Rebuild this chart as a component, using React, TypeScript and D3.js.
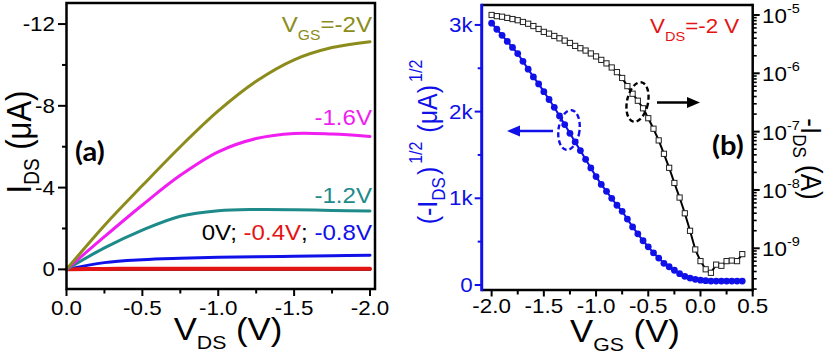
import { useEffect, useRef } from "react";
import * as d3 from "d3";

// (a) output curves: I_DS (uA) vs V_DS (V)
const vdsPoints = [0, -0.25, -0.5, -0.75, -1.0, -1.25, -1.5, -1.75, -2.0];
const idsVgs2 = [0, -2.15, -4.1, -6.0, -7.75, -9.2, -10.25, -10.85, -11.14];
const idsVgs16 = [0, -1.6, -3.15, -4.6, -5.75, -6.4, -6.65, -6.62, -6.5];
const idsVgs12 = [0, -1.05, -1.92, -2.6, -2.87, -2.93, -2.92, -2.88, -2.86];
const idsVgs08 = [0, -0.33, -0.47, -0.54, -0.59, -0.62, -0.64, -0.67, -0.69];
const idsVgs04 = [0, -0.02, -0.03, -0.03, -0.03, -0.03, -0.03, -0.03, -0.03];
const idsVgs0 = [0, -0.01, -0.01, -0.01, -0.01, -0.01, -0.01, -0.01, -0.01];

// (b) transfer curve at V_DS = -2 V
const vgsPoints = [
  -2.0, -1.95, -1.9, -1.85, -1.8, -1.75, -1.7, -1.65, -1.6, -1.55,
  -1.5, -1.45, -1.4, -1.35, -1.3, -1.25, -1.2, -1.15, -1.1, -1.05,
  -1.0, -0.95, -0.9, -0.85, -0.8, -0.75, -0.7, -0.65, -0.6, -0.55,
  -0.5, -0.45, -0.4, -0.35, -0.3, -0.25, -0.2, -0.15, -0.1, -0.05,
  0, 0.05, 0.1, 0.15, 0.2, 0.25, 0.3, 0.35, 0.4,
];
const sqrtIds = [
  3020, 2950, 2880, 2810, 2740, 2670, 2580, 2490, 2400, 2320,
  2230, 2140, 2050, 1950, 1850, 1750, 1650, 1550, 1450, 1350,
  1250, 1160, 1080, 1000, 920, 850, 760, 670, 590, 510,
  440, 370, 310, 250, 210, 170, 130, 100, 80, 65,
  55, 50, 45, 45, 45, 45, 45, 45, 45,
];
// log10(-I_DS / A)
const logIds = [
  -5.0, -5.02, -5.03, -5.05, -5.07, -5.09, -5.12, -5.15, -5.19, -5.24,
  -5.29, -5.32, -5.36, -5.4, -5.44, -5.48, -5.53, -5.57, -5.61, -5.66,
  -5.71, -5.77, -5.83, -5.9, -5.98, -6.08, -6.22, -6.35, -6.47, -6.6,
  -6.77, -6.95, -7.15, -7.38, -7.62, -7.88, -8.13, -8.4, -8.7, -9.02,
  -9.22, -9.36, -9.42, -9.28, -9.3, -9.22, -9.21, -9.22, -9.1,
];

const vdsTicks = [0, -0.5, -1.0, -1.5, -2.0];
const vdsMinor = [-0.25, -0.75, -1.25, -1.75];
const idsTicks = [0, -4, -8, -12];
const idsMinor = [-2, -6, -10];
const vgsTicks = [-2.0, -1.5, -1.0, -0.5, 0, 0.5];
const vgsMinor = [-1.75, -1.25, -0.75, -0.25, 0.25];
const sqrtTicks = [0, 1000, 2000, 3000];
const sqrtMinor = [500, 1500, 2500];
const logTicks = [-9, -8, -7, -6, -5];

const FONT = "'Liberation Sans', Arial, sans-serif";
const SX = 1.12; // text in the picture is a bit wide
const OLIVE = "#8c8c1c";
const MAGENTA = "#f01ef0";
const TEAL = "#1e8a8a";
const BLUE = "#1010e8";
const RED = "#e41414";

type Part = { t: string; size?: number; shift?: number; fill?: string; dx?: number };

function rich(g: any, x: number, y: number, parts: Part[], o: any) {
  const rot = o.rot || 0;
  const tf = rot === 0
    ? `translate(${x},${y}) scale(${SX},1)`
    : `translate(${x},${y}) rotate(${rot}) scale(1,${SX})`;
  const t = g.append("text")
    .attr("transform", tf)
    .attr("text-anchor", o.anchor || "start")
    .attr("font-family", o.family || FONT)
    .attr("font-weight", o.weight || "normal")
    .attr("font-size", o.size)
    .attr("fill", o.fill || "#000");
  let prev = 0;
  parts.forEach(p => {
    const s = p.shift || 0;
    const ts = t.append("tspan").attr("dy", s - prev).text(p.t);
    if (p.size) ts.attr("font-size", p.size);
    if (p.fill) ts.attr("fill", p.fill);
    if (p.dx) ts.attr("dx", p.dx);
    prev = s;
  });
}

function drawPanelA(svg: any) {
  const g = svg.append("g");
  const x = d3.scaleLinear().domain([0, -2.033]).range([66.5, 375]);
  const y = d3.scaleLinear().domain([0.96, -13.03]).range([289, 3]);

  const line = d3.line<number>()
    .x((d, i) => x(vdsPoints[i]))
    .y(d => y(d))
    .curve(d3.curveCatmullRom.alpha(0.5));

  const series = [
    { vals: idsVgs0, color: "#000", w: 3 },
    { vals: idsVgs08, color: BLUE, w: 3 },
    { vals: idsVgs04, color: RED, w: 4 },
    { vals: idsVgs12, color: TEAL, w: 3 },
    { vals: idsVgs16, color: MAGENTA, w: 3 },
    { vals: idsVgs2, color: OLIVE, w: 3 },
  ];
  series.forEach(s => {
    g.append("path").attr("d", line(s.vals)).attr("fill", "none")
      .attr("stroke", s.color).attr("stroke-width", s.w).attr("stroke-linecap", "round");
  });

  // frame
  g.append("rect").attr("x", x(0)).attr("y", y(-13.03))
    .attr("width", x(-2.033) - x(0)).attr("height", y(0.96) - y(-13.03))
    .attr("fill", "none").attr("stroke", "#000").attr("stroke-width", 2.5);

  // bottom ticks
  vdsTicks.forEach(v => {
    g.append("line").attr("x1", x(v)).attr("x2", x(v)).attr("y1", 289).attr("y2", 296)
      .attr("stroke", "#000").attr("stroke-width", 2);
    rich(g, x(v), 315, [{ t: v.toFixed(1) }], { size: 20, anchor: "middle" });
  });
  vdsMinor.forEach(v => {
    g.append("line").attr("x1", x(v)).attr("x2", x(v)).attr("y1", 289).attr("y2", 293.5)
      .attr("stroke", "#000").attr("stroke-width", 2);
  });
  // left ticks
  idsTicks.forEach(v => {
    g.append("line").attr("x1", 58).attr("x2", 66.5).attr("y1", y(v)).attr("y2", y(v))
      .attr("stroke", "#000").attr("stroke-width", 2);
    rich(g, 55, y(v) + 7, [{ t: String(v) }], { size: 20, anchor: "end" });
  });
  idsMinor.forEach(v => {
    g.append("line").attr("x1", 62).attr("x2", 66.5).attr("y1", y(v)).attr("y2", y(v))
      .attr("stroke", "#000").attr("stroke-width", 2);
  });

  // axis titles
  rich(g, 228, 340, [{ t: "V" }, { t: "DS", size: 19, shift: 9 }, { t: " (V)", shift: 0 }],
    { size: 31, anchor: "middle" });
  rich(g, 31, 142, [{ t: "I" }, { t: "DS", size: 19, shift: 7 }, { t: " (\u03bcA)", shift: 0 }],
    { size: 31, anchor: "middle", rot: -90 });

  // curve labels
  rich(g, 372, 32, [{ t: "V" }, { t: "GS", size: 14, shift: 8 }, { t: "=-2V", shift: 0 }],
    { size: 21.5, anchor: "end", fill: OLIVE });
  rich(g, 372, 125, [{ t: "-1.6V" }], { size: 21.5, anchor: "end", fill: MAGENTA });
  rich(g, 372, 203, [{ t: "-1.2V" }], { size: 21.5, anchor: "end", fill: TEAL });
  rich(g, 372, 240, [
    { t: "0V; " }, { t: "-0.4V", fill: RED }, { t: "; " }, { t: "-0.8V", fill: BLUE },
  ], { size: 21.5, anchor: "end" });

  rich(g, 75, 161, [{ t: "(a)" }], { size: 26, weight: "bold", family: "Lato, 'Open Sans', sans-serif" });
}

function drawPanelB(svg: any) {
  const g = svg.append("g");
  const L = 481.7, R = 752.7, T = 5, B = 290;
  const x = d3.scaleLinear().domain([-2.095, 0.5]).range([L, R]);
  const yS = d3.scaleLinear().domain([-58, 3230]).range([B, T]);
  const yL = d3.scaleLog().domain([Math.pow(10, -9.715), Math.pow(10, -4.829)]).range([B, T]);

  // blue sqrt(I) curve
  const blueLine = d3.line<number>().x((d, i) => x(vgsPoints[i])).y(d => yS(d));
  g.append("path").attr("d", blueLine(sqrtIds)).attr("fill", "none")
    .attr("stroke", BLUE).attr("stroke-width", 2);
  g.selectAll("circle.s").data(sqrtIds).enter().append("circle")
    .attr("cx", (d: number, i: number) => x(vgsPoints[i])).attr("cy", (d: number) => yS(d))
    .attr("r", 3.4).attr("fill", BLUE);

  // black log curve
  const blackLine = d3.line<number>().x((d, i) => x(vgsPoints[i])).y(d => yL(Math.pow(10, d)));
  g.append("path").attr("d", blackLine(logIds)).attr("fill", "none")
    .attr("stroke", "#000").attr("stroke-width", 2);
  g.selectAll("rect.q").data(logIds).enter().append("rect")
    .attr("x", (d: number, i: number) => x(vgsPoints[i]) - 2.6)
    .attr("y", (d: number) => yL(Math.pow(10, d)) - 2.6)
    .attr("width", 5.2).attr("height", 5.2)
    .attr("fill", "#fff").attr("stroke", "#222").attr("stroke-width", 1);

  // frame
  g.append("line").attr("x1", L).attr("x2", R).attr("y1", T).attr("y2", T).attr("stroke", "#000").attr("stroke-width", 2.5);
  g.append("line").attr("x1", L).attr("x2", R).attr("y1", B).attr("y2", B).attr("stroke", "#000").attr("stroke-width", 2.5);
  g.append("line").attr("x1", R).attr("x2", R).attr("y1", T - 1.2).attr("y2", B + 1.2).attr("stroke", "#000").attr("stroke-width", 2.5);
  g.append("line").attr("x1", L).attr("x2", L).attr("y1", T - 1.2).attr("y2", B + 1.2).attr("stroke", BLUE).attr("stroke-width", 3);

  // bottom ticks
  vgsTicks.forEach(v => {
    g.append("line").attr("x1", x(v)).attr("x2", x(v)).attr("y1", B).attr("y2", B + 6.5)
      .attr("stroke", "#000").attr("stroke-width", 2);
    rich(g, x(v), 313, [{ t: v.toFixed(1) }], { size: 20, anchor: "middle" });
  });
  vgsMinor.forEach(v => {
    g.append("line").attr("x1", x(v)).attr("x2", x(v)).attr("y1", B).attr("y2", B + 4.5)
      .attr("stroke", "#000").attr("stroke-width", 2);
  });

  // left (blue) ticks
  sqrtTicks.forEach(v => {
    g.append("line").attr("x1", L - 7).attr("x2", L).attr("y1", yS(v)).attr("y2", yS(v))
      .attr("stroke", BLUE).attr("stroke-width", 2);
    rich(g, L - 9, yS(v) + 7, [{ t: d3.format("~s")(v) }], { size: 20, anchor: "end", fill: BLUE });
  });
  sqrtMinor.forEach(v => {
    g.append("line").attr("x1", L - 4).attr("x2", L).attr("y1", yS(v)).attr("y2", yS(v))
      .attr("stroke", BLUE).attr("stroke-width", 2);
  });

  // right (log) ticks
  for (let d = -10; d <= -5; d++) {
    for (let m = 2; m <= 9; m++) {
      const v = m * Math.pow(10, d);
      const [lo, hi] = yL.domain();
      if (v < lo || v > hi) continue;
      g.append("line").attr("x1", R).attr("x2", R + 4).attr("y1", yL(v)).attr("y2", yL(v))
        .attr("stroke", "#000").attr("stroke-width", 1.6);
    }
  }
  logTicks.forEach(e => {
    const v = Math.pow(10, e);
    g.append("line").attr("x1", R).attr("x2", R + 7).attr("y1", yL(v)).attr("y2", yL(v))
      .attr("stroke", "#000").attr("stroke-width", 2);
    rich(g, 762, yL(v) + 8, [{ t: "10" }, { t: String(e), size: 13, shift: -10 }], { size: 20 });
  });

  // axis titles
  rich(g, 625, 342, [{ t: "V" }, { t: "GS", size: 19, shift: 9 }, { t: " (V)", shift: 0 }],
    { size: 31, anchor: "middle" });
  rich(g, 437, 142, [
    { t: "(-I" }, { t: "DS", size: 17, shift: 7 }, { t: ")", shift: 0, dx: 2 },
    { t: "1/2", size: 16, shift: -13, dx: 3 }, { t: " (\u03bcA)", shift: 0, dx: 2 },
    { t: "1/2", size: 16, shift: -13, dx: 3 },
  ], { size: 25, anchor: "middle", rot: -90, fill: BLUE });
  rich(g, 801, 159, [{ t: "-I" }, { t: "DS", size: 17, shift: 7 }, { t: " (A)", shift: 0 }],
    { size: 26, anchor: "middle", rot: 90 });

  // annotations
  rich(g, 650, 33, [{ t: "V" }, { t: "DS", size: 13, shift: 8 }, { t: "=-2 V", shift: 0 }],
    { size: 20, fill: RED });
  rich(g, 712, 155, [{ t: "(b)" }], { size: 26, weight: "bold", family: "Lato, 'Open Sans', sans-serif" });

  g.append("ellipse").attr("cx", 0).attr("cy", 0).attr("rx", 10.5).attr("ry", 20)
    .attr("transform", "translate(637.5,102) rotate(12)")
    .attr("fill", "none").attr("stroke", "#000").attr("stroke-width", 2.4).attr("stroke-dasharray", "5,3");
  g.append("ellipse").attr("cx", 0).attr("cy", 0).attr("rx", 10.5).attr("ry", 20)
    .attr("transform", "translate(569,130) rotate(8)")
    .attr("fill", "none").attr("stroke", BLUE).attr("stroke-width", 2.4).attr("stroke-dasharray", "5,3");

  // arrows
  g.append("line").attr("x1", 657).attr("x2", 690).attr("y1", 102.5).attr("y2", 102.5)
    .attr("stroke", "#000").attr("stroke-width", 2.5);
  g.append("path").attr("d", "M700,102.5 L687,97 L687,108 Z").attr("fill", "#000");
  g.append("line").attr("x1", 553).attr("x2", 517).attr("y1", 131).attr("y2", 131)
    .attr("stroke", BLUE).attr("stroke-width", 2.5);
  g.append("path").attr("d", "M507,131 L520,125.5 L520,136.5 Z").attr("fill", BLUE);
}

export default function App() {
  const ref = useRef<SVGSVGElement>(null);
  useEffect(() => {
    const svg = d3.select(ref.current);
    svg.selectAll("*").remove();
    drawPanelA(svg);
    drawPanelB(svg);
  }, []);
  return (
    <svg ref={ref} width={828} height={354}
      style={{ position: "absolute", left: 0, top: 0, background: "#fff" }} />
  );
}
